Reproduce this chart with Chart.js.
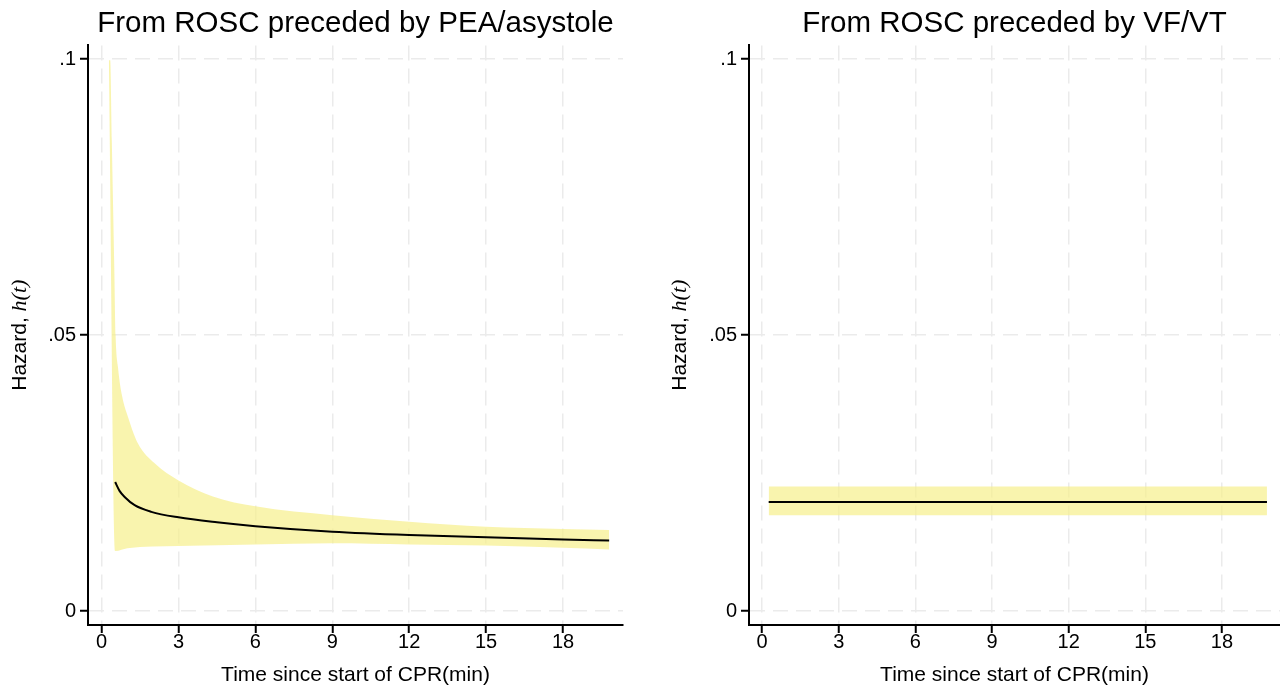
<!DOCTYPE html>
<html>
<head>
<meta charset="utf-8">
<script src="https://cdn.jsdelivr.net/npm/chart.js@4.4.1/dist/chart.umd.min.js"></script>
<style>
  body { margin: 0; background: #fff; }
  #wrap { position: relative; width: 1280px; height: 688px; overflow: hidden; }
  canvas { position: absolute; top: 0; }
</style>
</head>
<body>
<div id="wrap">
  <canvas id="chartPea" width="640" height="688" style="left:0"></canvas>
  <canvas id="chartVf" width="620" height="688" style="left:660px"></canvas>
</div>
<script>
// ===== datos =====
var titulos = ['From ROSC preceded by PEA/asystole', 'From ROSC preceded by VF/VT'];
var tituloX = 'Time since start of CPR(min)';
var tituloY = ['Hazard, ', 'h(t)'];
var ticksX = [0, 3, 6, 9, 12, 15, 18];
var ticksY = [0, 0.05, 0.1];
var etiquetasY = ['0', '.05', '.1'];

// panel izquierdo: PEA/asistolia
var peaTiempo   = [0.53, 0.7, 0.9, 1.29, 1.94, 3, 4.5, 6, 9, 12, 15, 18, 19.8];
var peaHazard   = [0.0234, 0.0218, 0.0207, 0.0192, 0.0180, 0.0170, 0.0161, 0.0154, 0.0144, 0.0138, 0.0134, 0.0130, 0.0128];
var peaSupTiempo = [0.285, 0.336, 0.40, 0.45, 0.50, 0.547, 0.64, 0.80, 1.03, 1.42, 2.07, 3.0, 4.34, 6, 9, 12, 15, 18, 19.8];
var peaSuperior  = [0.0998, 0.0998, 0.085, 0.073, 0.061, 0.050, 0.0442, 0.039, 0.0352, 0.0304, 0.0268, 0.0237, 0.0208, 0.0190, 0.0174, 0.0162, 0.0153, 0.0149, 0.0147];
var peaInfTiempo = [0.285, 0.547, 1.0, 3, 6, 9, 12, 15, 18, 19.8];
var peaInferior  = [0.0998, 0.0109, 0.0114, 0.0118, 0.0121, 0.0123, 0.0121, 0.0119, 0.0115, 0.0112];

// panel derecho: FV/TV
var vfTiempo   = [0.26, 19.76];
var vfHazard   = [0.0198, 0.0198];
var vfSuperior = [0.0226, 0.0226];
var vfInferior = [0.0174, 0.0174];

var fuente = "'Liberation Sans', Arial, Helvetica, sans-serif";
var colorBanda = 'rgba(246, 240, 140, 0.7)';
var colorGrid = '#ebebeb';

function pares(xs, ys){
    return xs.map(function(x, i){ return {x: x, y: ys[i]}; });
}

//Plugin para el titulo del eje Y con h(t) en cursiva
var tituloYPlugin = {
    id: 'tituloY',
    afterDraw: function(chart){
        var ctx = chart.ctx;
        var area = chart.chartArea;
        ctx.save();
        ctx.translate(20, (area.top + area.bottom) / 2);
        ctx.rotate(-Math.PI / 2);
        ctx.fillStyle = '#000';
        ctx.textBaseline = 'middle';
        var f1 = "21px " + fuente;
        var f2 = "italic 22px 'Liberation Serif', 'Times New Roman', serif";
        ctx.font = f1;
        var w1 = ctx.measureText(tituloY[0]).width;
        ctx.font = f2;
        var w2 = ctx.measureText(tituloY[1]).width;
        var x0 = -(w1 + w2) / 2;
        ctx.font = f1;
        ctx.textAlign = 'left';
        ctx.fillText(tituloY[0], x0, 0);
        ctx.font = f2;
        ctx.fillText(tituloY[1], x0 + w1, 0);
        ctx.restore();
    }
};

function crearGrafico(id, titulo, tiempo, hazard, supT, sup, infT, inf, xMin, xMax, anchoY, padDer){
    var ctx = document.getElementById(id).getContext('2d');
    return new Chart(ctx, {
        type: 'scatter',
        data: {
            datasets: [
                {
                    label: 'hazard',
                    data: pares(tiempo, hazard),
                    showLine: true,
                    borderColor: '#000',
                    borderWidth: 2,
                    pointRadius: 0,
                    cubicInterpolationMode: 'monotone',
                    fill: false
                },
                {
                    label: 'superior',
                    data: pares(supT, sup),
                    showLine: true,
                    borderWidth: 0,
                    borderColor: 'rgba(0,0,0,0)',
                    backgroundColor: colorBanda,
                    pointRadius: 0,
                    cubicInterpolationMode: 'monotone',
                    fill: '+1'
                },
                {
                    label: 'inferior',
                    data: pares(infT, inf),
                    showLine: true,
                    borderWidth: 0,
                    borderColor: 'rgba(0,0,0,0)',
                    pointRadius: 0,
                    cubicInterpolationMode: 'monotone',
                    fill: false
                }
            ]
        },
        options: {
            responsive: false,
            animation: false,
            layout: { padding: { left: 0, right: padDer, top: 0, bottom: 0 } },
            plugins: {
                legend: { display: false },
                tooltip: { enabled: false },
                title: {
                    display: true,
                    text: titulo,
                    fullSize: false,
                    color: '#000',
                    font: { family: fuente, size: 29.5, weight: 'normal' },
                    padding: { top: 6, bottom: 4 }
                }
            },
            scales: {
                x: {
                    type: 'linear',
                    min: xMin,
                    max: xMax,
                    afterFit: function(s){ s.height = 63; },
                    afterBuildTicks: function(s){ s.ticks = ticksX.map(function(v){ return {value: v}; }); },
                    ticks: { color: '#000', font: { family: fuente, size: 20 }, padding: -3, maxRotation: 0 },
                    grid: { color: colorGrid, lineWidth: 1.5, tickColor: '#000', tickLength: 8, tickWidth: 2 },
                    border: { display: true, color: '#000', width: 2, dash: [15, 8] },
                    title: { display: true, text: tituloX, color: '#000', font: { family: fuente, size: 21 }, padding: { top: 0, bottom: 0 } }
                },
                y: {
                    type: 'linear',
                    min: -0.0025,
                    max: 0.1025,
                    afterFit: function(s){ s.width = anchoY; },
                    afterBuildTicks: function(s){ s.ticks = ticksY.map(function(v){ return {value: v}; }); },
                    ticks: {
                        color: '#000',
                        font: { family: fuente, size: 20 },
                        padding: 4,
                        callback: function(v){
                            var i = ticksY.findIndex(function(t){ return Math.abs(t - v) < 1e-9; });
                            return i >= 0 ? etiquetasY[i] : '';
                        }
                    },
                    grid: { color: colorGrid, lineWidth: 1.5, tickColor: '#000', tickLength: 8, tickWidth: 2 },
                    border: { display: true, color: '#000', width: 2, dash: [15, 8] }
                }
            }
        },
        plugins: [tituloYPlugin]
    });
}

crearGrafico('chartPea', titulos[0], peaTiempo, peaHazard, peaSupTiempo, peaSuperior, peaInfTiempo, peaInferior, -0.53, 20.34, 88, 17);
crearGrafico('chartVf', titulos[1], vfTiempo, vfHazard, vfTiempo, vfSuperior, vfTiempo, vfInferior, -0.51, 20.27, 89, 0);
</script>
</body>
</html>
